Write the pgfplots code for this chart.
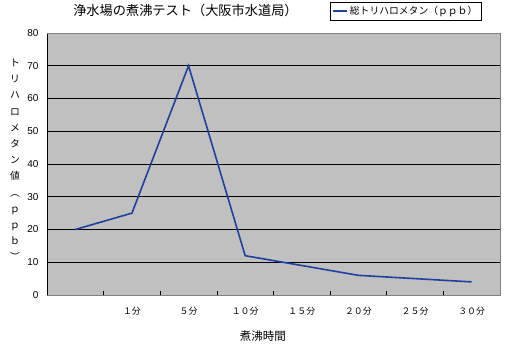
\documentclass[border=0pt]{standalone}
\usepackage{fontspec}
\setmainfont{Liberation Sans}
\newfontfamily\cjk{Noto Sans CJK JP}
\usepackage{pgfplots}
\pgfplotsset{compat=1.18}
\definecolor{plotbg}{RGB}{192,192,192}
\definecolor{linecol}{RGB}{32,64,160}
\begin{document}
\begin{tikzpicture}
\useasboundingbox (-47pt,-53pt) rectangle (460pt,295pt);
\begin{axis}[
 scale only axis, width=453pt, height=262pt,
 xmin=-0.5, xmax=7.5, ymin=0, ymax=80,
 axis background/.style={fill=plotbg},
 axis line style={draw=gray, line width=0.8pt},
 xtick={1,...,7},
 xticklabels={１分,５分,１０分,１５分,２０分,２５分,３０分},
 minor xtick={0.5,1.5,...,6.5},
 ytick={0,10,...,80},
 tick pos=left,
 major tick length=0pt,
 minor tick length=4pt,
 tick style={black, line width=0.6pt},
 ymajorgrids,
 grid style={black, line width=0.9pt},
 yticklabel style={font=\fontsize{10}{12}\selectfont, xshift=-5pt},
 xticklabel style={font=\cjk\fontsize{8.9}{10}\selectfont, yshift=-9pt},
 /pgf/number format/assume math mode=true,
 legend style={at={(0.625,1.118)}, anchor=north west, draw=black, fill=white,
   font=\cjk\fontsize{9.8}{11}\selectfont, inner sep=2pt},
 legend cell align=left,
 legend image code/.code={\draw[linecol, line width=1.6pt] (0pt,0pt) -- (14pt,0pt);},
]
\addplot[linecol, line width=1.6pt] coordinates {(0,20)(1,25)(2,70)(3,12)(4,9)(5,6)(6,5)(7,4)};
\addlegendentry{総トリハロメタン（ｐｐｂ）}
\draw[black, line width=0.8pt] (rel axis cs:0,1) -- (rel axis cs:0,0) -- (rel axis cs:1,0);
\draw[gray, line width=0.8pt] (rel axis cs:0,1) -- (rel axis cs:1,1) -- (rel axis cs:1,0);
\end{axis}
\node[font=\cjk\fontsize{13.2}{15}\selectfont] at (138.5pt,285pt) {浄水場の煮沸テスト（大阪市水道局）};
\node[font=\cjk\fontsize{11.5}{13}\selectfont] at (216pt,-41pt) {煮沸時間};
\node[font=\cjk\fontsize{9.8}{16.2}\selectfont, align=center] at (-32pt,135pt)
 {ト\\リ\\ハ\\ロ\\メ\\タ\\ン\\値\\︵\\ｐ\\ｐ\\ｂ\\︶};
\end{tikzpicture}
\end{document}
